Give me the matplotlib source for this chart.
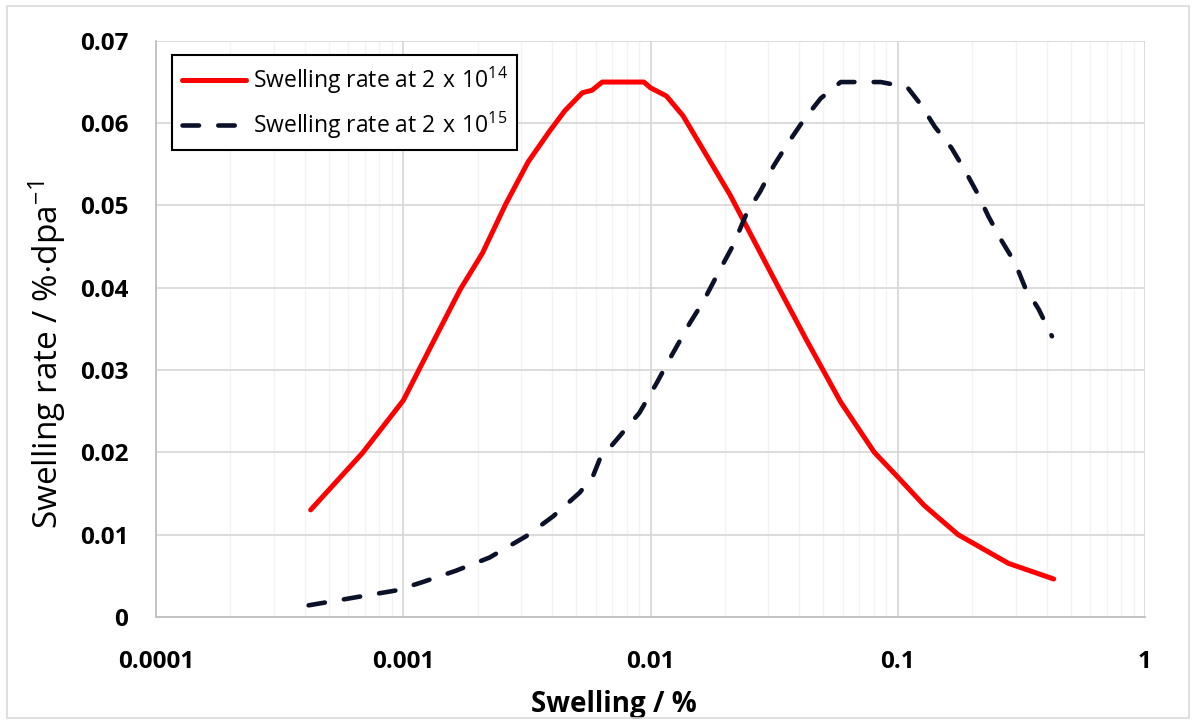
import matplotlib.pyplot as plt
from matplotlib.patches import Rectangle
from matplotlib.ticker import FixedLocator, LogLocator, NullFormatter

plt.rcParams['font.family'] = ['Open Sans', 'DejaVu Sans']

# swelling (%) vs swelling rate (%/dpa)
swell_14 = [0.000422, 0.000683, 0.001, 0.0013, 0.0017, 0.00209, 0.0026, 0.0032,
            0.0039, 0.0045, 0.0053, 0.0058, 0.00638, 0.0094, 0.0100, 0.0116,
            0.01354, 0.01685, 0.02097, 0.02452, 0.03247, 0.04302, 0.0588, 0.0804,
            0.1, 0.1284, 0.1754, 0.2805, 0.4275]
rate_14 = [0.0130, 0.0199, 0.0263, 0.0330, 0.0398, 0.0442, 0.0502, 0.0553,
           0.0590, 0.0615, 0.0637, 0.0640, 0.0650, 0.0650, 0.0643, 0.0633,
           0.0609, 0.0561, 0.0513, 0.0474, 0.0404, 0.0335, 0.0261, 0.0200,
           0.0170, 0.0135, 0.0100, 0.0065, 0.0046]

swell_15 = [0.000414, 0.000621, 0.000931, 0.00119, 0.00163, 0.00223, 0.00314, 0.00403,
            0.00517, 0.00585, 0.00622, 0.00728, 0.00902, 0.01054, 0.01214, 0.01442,
            0.01633, 0.0191, 0.02163, 0.02452, 0.02778, 0.03147, 0.03566, 0.04169,
            0.04875, 0.0588, 0.0855, 0.1, 0.1098, 0.1245, 0.141, 0.1649, 0.1867,
            0.2117, 0.2325, 0.2634, 0.2985, 0.3278, 0.3715, 0.4207]
rate_15 = [0.0014, 0.0023, 0.0032, 0.0042, 0.0056, 0.0072, 0.0098, 0.0122,
           0.0151, 0.0171, 0.0191, 0.0215, 0.0248, 0.0283, 0.0317, 0.0357,
           0.0383, 0.0422, 0.0452, 0.0491, 0.0517, 0.0548, 0.0574, 0.0604,
           0.0630, 0.0650, 0.0650, 0.0646, 0.0643, 0.0622, 0.0596, 0.0570, 0.0543,
           0.0513, 0.0487, 0.0457, 0.0430, 0.0400, 0.0374, 0.0341]

xticks = [0.0001, 0.001, 0.01, 0.1, 1]
xtick_labels = ['0.0001', '0.001', '0.01', '0.1', '1']
yticks = [0, 0.01, 0.02, 0.03, 0.04, 0.05, 0.06, 0.07]
ytick_labels = ['0', '0.01', '0.02', '0.03', '0.04', '0.05', '0.06', '0.07']

fig = plt.figure(figsize=(11.96, 7.24), dpi=100)
ax = fig.add_axes([0.1305, 0.148, 0.8268, 0.7955])

ax.plot(swell_14, rate_14, color='#ff0000', lw=3.6, solid_capstyle='round',
        solid_joinstyle='round',
        label=r'Swelling rate at $\mathregular{2\ x\ 10^{14}}$')
ax.plot(swell_15, rate_15, color='#0a1128', lw=3.3, dashes=(3.6, 4.2),
        dash_capstyle='round',
        label=r'Swelling rate at $\mathregular{2\ x\ 10^{15}}$')

ax.set_xscale('log')
ax.set_xlim(0.0001, 1)
ax.set_ylim(0, 0.07)
ax.xaxis.set_major_locator(FixedLocator(xticks))
ax.set_xticklabels(xtick_labels)
ax.xaxis.set_minor_locator(LogLocator(base=10, subs=range(2, 10)))
ax.xaxis.set_minor_formatter(NullFormatter())
ax.set_yticks(yticks)
ax.set_yticklabels(ytick_labels)

ax.tick_params(axis='both', which='both', length=0, labelsize=17.5)
ax.tick_params(axis='x', pad=24)
ax.tick_params(axis='y', pad=20)
for lab in ax.get_xticklabels() + ax.get_yticklabels():
    lab.set_fontweight('bold')

ax.grid(True, which='major', color='#d9d9d9', lw=1.3)
ax.grid(True, which='minor', axis='x', color='#f3f3f3', lw=1)
ax.set_axisbelow(True)
for side in ['top', 'right']:
    ax.spines[side].set_visible(False)
for side in ['left', 'bottom']:
    ax.spines[side].set_color('#bfbfbf')
    ax.spines[side].set_linewidth(1.3)

ax.set_xlabel('Swelling / %', fontsize=20, fontweight='bold', va='center')
ax.xaxis.set_label_coords(0.463, -0.153)
ax.set_ylabel(r'Swelling rate / %$\mathregular{\cdot}$dpa$\mathregular{^{-1}}$',
              fontsize=24, fontweight='normal', va='center')
ax.yaxis.set_label_coords(-0.110, 0.455)

leg = ax.legend(loc='upper left', bbox_to_anchor=(0.0162, 0.9757), borderaxespad=0,
                fontsize=16.5, frameon=True, fancybox=False, edgecolor='black',
                framealpha=1, handlelength=2.8, handletextpad=0.3,
                borderpad=0.42, labelspacing=0.6)
leg.get_frame().set_linewidth(1.5)

fig.patches.append(Rectangle((0.006, 0.008), 0.988, 0.984, transform=fig.transFigure,
                             fill=False, edgecolor='#d9d9d9', lw=1.2))

fig.savefig('out.png', dpi=100)
